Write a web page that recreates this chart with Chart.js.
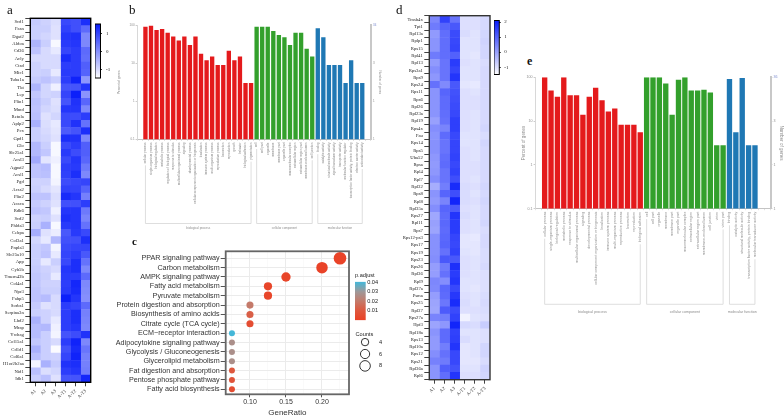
<!DOCTYPE html>
<html><head><meta charset="utf-8">
<script src="https://cdn.jsdelivr.net/npm/chart.js@4"></script>
<style>
html,body{margin:0;padding:0;background:#fff;width:784px;height:418px;overflow:hidden}
canvas{position:absolute;filter:blur(.3px)}
.t{position:absolute;white-space:nowrap;line-height:1}
</style></head><body>
<script>
/* ---------- panel a ---------- */
const samples = ["A1","A2","A3","A-T1","A-T2","A-T3"];
const genesA = ["Scd1","Fasn","Dgat2","Aldoa","Cd36","Acly","Ctsd","Mic1","Tuba1a","Tkt","Lep","Plin1","Mmd","Retnla","Aplp2","Pcx","Gpd1","Glo","Slc25a1","Acsl3","Agpat2","Acsl1","Pgd","Acss2","Plin2","Acaca","Rdh6","Scd2","Phlda3","Cebpa","Col3a1","Pnpla3","Slc25a10","App","Cyb5b","Tmem43b","Col4a1","Npr3","Fabp5","Sorbs1","Serpina3n","Lbd2","Mrap","Ywhag","Col15a1","Cd1d1","Col6a1","H1or2h2aa","Nid1","Idh1"];
const heatA = [
[-.8,-.9,-1.05,.95,.85,1.3],[-.85,-.85,-1.1,1.05,.85,.5],[-.85,-.95,-1.1,1.2,1.25,.1],[-.5,-.85,-1.4,1.15,1.2,.1],[-.7,-1,-1.2,1,1.1,.5],
[-1,-1,-1,1.35,1.1,.45],[-.9,-1,-1,1.1,1.1,.65],[-.9,-.85,-1.2,1.15,1.1,.6],[-.8,-.7,-.85,1.1,1.45,-.1],[-.5,-.95,-1.3,.8,.8,1.2],
[-.75,-.95,-.9,1,1.5,-.05],[-.65,-.85,-1.1,.8,1.25,.55],[-.7,-.95,-1.05,1.2,1.2,.1],[-.65,-1.1,-.95,.95,.9,1.1],[-.45,-1.05,-1.2,.95,1.25,.4],
[-.85,-1,-1.15,.7,.8,1.3],[-.85,-.95,-1.1,1.3,1.25,.1],[-.55,-.85,-1.4,.95,1.1,.65],[-.55,-.75,-1.4,1.15,.9,.65],[-.35,-1.15,-1.3,.95,1.2,.55],
[-.7,-.6,-1.4,1.1,1.15,.3],[-.7,-.65,-1.4,1.05,1.3,.1],[-.9,-.9,-1.35,.9,.95,1],[-.85,-1,-1.15,1.05,1,.6],[-.7,-.7,-1.05,1.35,1.2,.2],
[-.8,-.9,-1.1,.85,.85,1.1],[-.7,-.75,-1.3,1.2,1.2,.3],[-.9,-.85,-1.1,1.3,1.2,.15],[-.85,-.45,-1.4,1.15,1.2,.4],[-.4,-1.1,-1.25,.75,1.15,.95],
[-.95,-1.2,-.55,.85,.85,1.3],[-.85,-.75,-1.35,.95,1,1],[-.85,-.7,-1.2,1,1.1,.75],[-.85,-1.2,-.85,.95,1.3,.4],[-.8,-.9,-1,1.2,1.3,.1],
[-.75,-.85,-1.2,1.15,1.1,.5],[-.75,-.9,-.9,1.1,1.4,.1],[-.7,-.85,-.85,1.15,1.35,.05],[-.7,-.6,-1,1.5,1.2,0],[-.8,-1.1,-1,1.1,1,.5],
[-.85,-.9,-1,1.1,1.3,.2],[-.45,-.9,-1.2,1.1,1.3,.15],[-.6,-.55,-1.3,1.1,1.2,.1],[-.6,-.85,-1.35,.8,.9,1.25],[-.75,-.85,-1,1.1,1.45,.1],
[-.45,-.85,-1.45,.85,1.35,.35],[-.65,-.85,-.9,1,1.45,.2],[-1.35,-.45,-.8,1.25,1.3,.2],[-.65,-1.05,-.95,1.1,1.2,.25],[-.85,-.65,-1.1,.8,.8,1.4]];

/* ---------- panel d ---------- */
const genesD = ["Tmsb4x","Tpt1","Rpl13a","Rplp1","Rps15","Rpl41","Rpl13","Rps3a1","Rps9","Rps24","Rps11","Rps6","Rpl26","Rpl23a","Rpl19","Rps4x","Fau","Rps14","Rps5","Uba52","Rpsa","Rpl4","Rpl7","Rpl32","Rps8","Rpl8","Rpl35a","Rps27","Rpl11","Rps7","Rps12-ps3","Rps17","Rps19","Rps23","Rps26","Rpl36","Rpl9","Rpl37a","Psma","Rps25","Rpl37","Rps27a","Hpf3","Rpl18a","Rps13","Rpl10a","Rps12","Rps21","Rpl36a","Rpl6"];
const heatD = [
[.4,1.5,.7,-1,-1,-.9],[.6,.95,1.15,-1,-1,-.9],[.1,.8,1.35,-.95,-1.05,-.85],[.2,.8,1.4,-1.05,-1.05,-.8],[.2,.8,1.45,-1.05,-1.05,-.85],
[.6,.8,1,-1.05,-1.1,-.85],[.1,.7,1.6,-1,-1.05,-.95],[.3,.7,1.45,-1.05,-1.05,-.9],[.15,.7,1.7,-1.05,-1.05,-.9],[.75,.35,1.15,-1.1,-1.15,-.9],
[.2,.95,1.25,-1,-1.05,-.9],[.2,.85,1.3,-1,-1,-.9],[.2,.85,1.35,-1,-1,-.9],[.2,.8,1.4,-1,-1.05,-.9],[0,.75,1.55,-1,-1.05,-.9],
[.3,.45,1.55,-1,-1.05,-.85],[.2,.85,1.4,-1.05,-1.05,-.95],[.25,.7,1.45,-1.05,-1.05,-.85],[.25,.7,1.45,-1,-1.05,-.9],[.15,.8,1.5,-1,-1.05,-.9],
[.1,.85,1.4,-1,-1,-.9],[.15,.7,1.5,-1,-1,-.9],[.3,.7,1.3,-1,-1.05,-.9],[-.2,.55,1.85,-.95,-1,-.85],[.2,.95,1.3,-.95,-1.05,-.9],
[.1,.45,1.95,-.95,-1,-.85],[.3,.95,1.1,-1,-1.05,-.9],[-.1,.85,1.7,-.95,-1.05,-.9],[0,.9,1.6,-1,-1.05,-.85],[-.05,.85,1.6,-1,-1.05,-.95],
[.25,.9,1.45,-1.1,-1.15,-.9],[.25,.95,1.4,-1.1,-1.1,-.9],[.25,.75,1.5,-1.05,-1.1,-.95],[.3,1.15,1.15,-1,-1.05,-.95],[.05,.6,1.8,-1,-1.05,-.9],
[.05,.75,1.6,-1,-1.05,-1],[.4,.3,1.7,-1.05,-1.05,-1],[.35,.9,1.4,-1.05,-1.1,-1],[.05,.85,1.65,-1,-1.05,-.95],[-.05,.65,1.85,-.95,-1.05,-.9],
[-.1,1.1,1.35,-1,-1,-.95],[.45,.55,1.5,-1.3,-1.05,-1],[-.05,.15,1.95,-.9,-.95,-.7],[.2,.85,1.5,-1.05,-1.05,-1],[.1,.85,1.55,-.95,-1.05,-1],
[.1,.55,1.7,-1.1,-1.05,-.85],[.3,.75,1.4,-1.1,-1.05,-.85],[.5,.6,1.4,-1.1,-1.1,-.95],[.2,1.05,1.25,-1.05,-1.05,-.8],[.2,.8,1.7,-1,-1,-.85]];

/* ---------- panel b ---------- */
const bBioLabels = ["cellular process","single-organism process","biological regulation","metabolic process","regulation of biological process","response to stimulus","multicellular organismal process","signaling","developmental process","cellular component organization or biogenesis","localization","immune system process","multi-organism process","reproductive process","locomotion","reproduction","growth","behavior","biological adhesion","pigmentation"];
const bBioValues = [90,96,74,78,63,50,39,50,30,50,17.7,12,15,9,9,21,12,15,3,3];
const bCellLabels = ["cell","cell part","organelle","membrane","membrane part","organelle part","macromolecular complex","extracellular region","extracellular region part","membrane-enclosed lumen","cell junction"];
const bCellValues = [90,90,90,70,55,47.5,30,63,63,24,15];
const bMolLabels = ["binding","catalytic activity","structural molecule activity","signal transducer activity","transporter activity","molecular function regulator","transcription factor activity, protein binding","electron carrier activity","antioxidant activity"];
const bMolValues = [82,47.5,9,9,9,3,12,3,3];
const bRightTicks = ["34","3","1","1"];

/* ---------- panel e ---------- */
const eBioLabels = ["cellular process","single-organism process","biological regulation","metabolic process","response to stimulus","multicellular organismal process","signaling","developmental process","cellular component organization or biogenesis","localization","immune system process","multi-organism process","reproductive process","locomotion","reproduction","biological adhesion"];
const eBioValues = [100,50,36,100,39,39,14,36,58,30,16.5,19.5,8.3,8.3,8.3,5.6];
const eCellLabels = ["cell","cell part","organelle","membrane","membrane part","organelle part","macromolecular complex","extracellular region","extracellular region part","membrane-enclosed lumen","cell junction","virion","virion part"];
const eCellValues = [100,100,100,72,14,88,100,50,50,52,45,2.8,2.8];
const eMolLabels = ["binding","catalytic activity","structural molecule activity","transcription factor activity, protein binding","molecular transducer activity"];
const eMolValues = [92,5.6,96,2.8,2.8];
const eRightTicks = ["36","3","1","1"];

const percentTicks = [0.1,1,10,100];
const groupNames = ["biological process","cellular component","molecular function"];
const groupColors = ["#e41a1c","#33a02c","#1f78b4"];

/* ---------- panel c ---------- */
const pathways = ["PPAR signaling pathway","Carbon metabolism","AMPK signaling pathway","Fatty acid metabolism","Pyruvate metabolism","Protein digestion and absorption","Biosynthesis of amino acids","Citrate cycle (TCA cycle)","ECM\u2212receptor interaction","Adipocytokine signaling pathway","Glycolysis / Gluconeogenesis","Glycerolipid metabolism","Fat digestion and absorption","Pentose phosphate pathway","Fatty acid biosynthesis"];
const geneRatio = [.225,.2,.15,.125,.125,.1,.1,.1,.075,.075,.075,.075,.075,.075,.075];
const pAdjust = [.001,.001,.002,.002,.002,.02,.012,.005,.04,.027,.027,.027,.01,.008,.005];
const counts = [9,8,6,5,5,4,4,4,3,3,3,3,3,3,3];
const legendCounts = [4,6,8];
const pTicks = [.01,.02,.03,.04];

Chart.defaults.animation = false;
Chart.defaults.responsive = false;
Chart.defaults.devicePixelRatio = 1;
Chart.defaults.plugins.legend.display = false;
Chart.defaults.plugins.tooltip.enabled = false;
const SERIF = "'Liberation Serif'";
const SANS = "'Liberation Sans'";

function box(left, top, width, height){
  const c = document.createElement('canvas');
  c.width = width; c.height = height;
  c.style.left = left + 'px'; c.style.top = top + 'px';
  document.body.appendChild(c);
  return c.getContext('2d');
}
function text(str, left, top, css){
  const d = document.createElement('div');
  d.className = 't'; d.textContent = str;
  d.style.cssText += `left:${left}px;top:${top}px;${css}`;
  document.body.appendChild(d);
}
const fitW = w => s => { s.width = w; };
const fitH = h => s => { s.height = h; };
const frame = (color, lw) => ({
  id:'frame',
  afterDatasetsDraw(ch){
    const a = ch.chartArea, x = ch.ctx;
    x.save(); x.strokeStyle = color; x.lineWidth = lw;
    x.strokeRect(a.left, a.top, a.right-a.left, a.bottom-a.top);
    x.restore();
  }
});
function heatColor(v, lo, hi){
  const t = Math.max(0, Math.min(1, (v-lo)/(hi-lo)));
  const m = (a,b) => Math.round(a+(b-a)*t);
  return `rgb(${m(255,8)},${m(255,28)},${m(255,250)})`;
}

function heatmap(o){
  new Chart(box(o.left,o.top,o.width,o.height), {
    type:'bar',
    data:{
      labels:o.genes,
      datasets:samples.map((s,j)=>({
        label:s, data:o.genes.map(()=>1), stack:'row',
        backgroundColor:o.values.map(r=>heatColor(r[j],o.lo,o.hi)),
        barPercentage:1, categoryPercentage:1, borderWidth:0
      }))
    },
    options:{
      indexAxis:'y',
      layout:{padding:{top:o.padTop,right:o.padRight,left:0,bottom:0}},
      scales:{
        x:{type:'linear',min:0,max:samples.length,stacked:true,
           afterBuildTicks:s=>{s.ticks=samples.map((_,i)=>({value:i+.5}));},
           afterFit:fitH(o.axisH),
           grid:{drawOnChartArea:false,tickLength:4,color:'#111',lineWidth:.8},
           border:{display:false},
           ticks:{autoSkip:false,minRotation:45,maxRotation:45,padding:2,color:'#333',
                  font:{family:SERIF,size:4.8},callback:v=>samples[Math.floor(v)]}},
        y:{stacked:true,afterFit:fitW(o.axisW),
           grid:{drawOnChartArea:false,tickLength:5,color:'#111',lineWidth:.8},
           border:{display:false},
           ticks:{autoSkip:false,padding:1.5,color:'#222',font:{family:SERIF,size:4.7}}}
      }
    },
    plugins:[frame(o.frameColor,1.4)]
  });
}

function colorbar(o){
  new Chart(box(o.left,o.top,o.width,o.height), {
    type:'bar',
    data:{labels:['v'],datasets:[{data:[[o.lo,o.hi]],barPercentage:1,categoryPercentage:1,borderWidth:0,
      backgroundColor:c=>{
        const a=c.chart.chartArea; if(!a) return '#88f';
        const g=c.chart.ctx.createLinearGradient(0,a.bottom,0,a.top);
        for(let i=0;i<=20;i++) g.addColorStop(i/20,o.colorOf(o.lo+(o.hi-o.lo)*i/20));
        return g;
      }}]},
    options:{
      layout:{padding:{top:o.pad,bottom:o.pad,left:o.padLeft||0,right:0}},
      scales:{
        x:{display:false},
        y:{position:'right',min:o.lo,max:o.hi,afterFit:fitW(o.axisW),
           afterBuildTicks:s=>{s.ticks=o.ticks.map(value=>({value}));},
           grid:{drawOnChartArea:false,tickLength:o.tick,color:o.tickColor},
           border:{display:false},
           ticks:{padding:o.tickPad,color:o.labelColor,font:{family:o.family,size:o.size},callback:v=>o.format(v)}}
      }
    },
    plugins:o.frame?[frame(o.frame,1)]:[]
  });
}

/* GO bar panel with brackets under the labels */
function goPanel(o){
  const labels=[''].concat(o.bio.labels,o.cell.labels,o.mol.labels,o.tail);
  const values=[null].concat(o.bio.values,o.cell.values,o.mol.values,o.tail.map(()=>null));
  const colors=[null]
    .concat(o.bio.labels.map(()=>groupColors[0]),o.cell.labels.map(()=>groupColors[1]),o.mol.labels.map(()=>groupColors[2]),o.tail.map(()=>null));
  const parts=[o.bio.labels.length,o.cell.labels.length,o.mol.labels.length];
  const brackets={
    id:'brackets',
    afterDraw(ch){
      const x=ch.ctx, sc=ch.scales.x; let i=1;
      x.save();
      x.font=`${o.size}px ${SANS}`;
      parts.forEach((n,k)=>{
        const first=i, last=i+n-1; i+=n;
        const xa=sc.getPixelForValue(first), xb=sc.getPixelForValue(last);
        const yb=sc.top+o.bracketY;
        const up=idx=>sc.top+o.labelGap+x.measureText(labels[idx]).width+2;
        x.strokeStyle='#d6d6d6'; x.lineWidth=.8;
        x.beginPath();
        x.moveTo(xa,up(first)); x.lineTo(xa,yb); x.lineTo(xb,yb); x.lineTo(xb,up(last));
        x.stroke();
        x.fillStyle=o.textColor; x.textAlign='center'; x.textBaseline='middle';
        x.fillText(groupNames[k],(xa+xb)/2,yb+o.groupGap);
      });
      x.restore();
    }
  };
  const tickColor=ctx=>ctx.index===percentTicks.length-1?'#7f8fd0':o.textColor;
  new Chart(box(o.left,o.top,o.width,o.height), {
    type:'bar',
    data:{labels,datasets:[{data:values,backgroundColor:colors,barPercentage:o.barPct,categoryPercentage:1,borderWidth:0}]},
    options:{
      layout:{padding:{top:o.padTop,left:0,right:0,bottom:0}},
      scales:{
        x:{afterFit:fitH(o.axisH),
           grid:{drawOnChartArea:false,tickLength:1.5,color:'#ccc',lineWidth:.6},
           border:{color:'#c4c4c4',width:1},
           ticks:{autoSkip:false,minRotation:90,maxRotation:90,padding:o.tickPad,color:o.textColor,font:{family:SANS,size:o.size}}},
        y:{type:'logarithmic',min:.1,max:100,afterFit:fitW(o.axisW),
           afterBuildTicks:s=>{s.ticks=percentTicks.map(value=>({value}));},
           title:{display:true,text:'Percent of genes',color:o.textColor,font:{family:SANS,size:o.titleSize},padding:0},
           grid:{drawOnChartArea:false,tickLength:1.5,color:'#ccc'},
           border:{color:'#d8d8d8',width:1},
           ticks:{padding:1,color:o.textColor,font:{family:SANS,size:o.size},callback:v=>String(v)}},
        y1:{type:'logarithmic',position:'right',min:.1,max:100,afterFit:fitW(o.axisR),
           afterBuildTicks:s=>{s.ticks=percentTicks.map(value=>({value}));},
           title:{display:true,text:'Number of genes',color:o.textColor,font:{family:SANS,size:o.titleSize},padding:0},
           grid:{drawOnChartArea:false,tickLength:1.5,color:'#ccc'},
           border:{color:'#c8c8c8',width:2},
           ticks:{padding:1,color:tickColor,font:{family:SANS,size:o.size},
                  callback:v=>o.right[percentTicks.length-1-percentTicks.indexOf(v)]}}
      }
    },
    plugins:[brackets]
  });
}

/* panel a */
heatmap({left:0,top:10,width:95,height:408,axisW:30.3,axisH:35.7,padTop:8.3,padRight:4.3,genes:genesA,values:heatA,lo:-1.5,hi:1.55,frameColor:'#000'});
colorbar({left:95,top:17,width:16,height:68,axisW:10.5,pad:3,lo:-1.47,hi:1.54,ticks:[-1,0,1],tick:1.5,tickPad:4,tickColor:'#333',labelColor:'#222',family:SERIF,size:5,frame:'#000',format:v=>String(v),colorOf:v=>heatColor(v,-1.47,1.54)});
/* panel d */
heatmap({left:395,top:8,width:97,height:410,axisW:34.3,axisH:38.3,padTop:7.7,padRight:2,genes:genesD,values:heatD,lo:-1.5,hi:2.1,frameColor:'#333'});
colorbar({left:494,top:14,width:17,height:67,axisW:11.7,pad:2.7,lo:-1.48,hi:2.1,ticks:[-1,0,1,2],tick:1.5,tickPad:3.5,tickColor:'#333',labelColor:'#222',family:SERIF,size:5,frame:'#000',format:v=>String(v),colorOf:v=>heatColor(v,-1.48,2.1)});

/* panel b */
goPanel({left:117,top:20,width:265,height:215,axisW:20.1,axisR:11.4,axisH:95.5,padTop:5,barPct:.78,tail:[''],size:3,titleSize:3.1,textColor:'#8c8c8c',tickPad:1.5,labelGap:3,bracketY:84,groupGap:5,
  bio:{labels:bBioLabels,values:bBioValues},cell:{labels:bCellLabels,values:bCellValues},mol:{labels:bMolLabels,values:bMolValues},right:bRightTicks});
/* panel e */
goPanel({left:521,top:72,width:263,height:246,axisW:14.1,axisR:13.1,axisH:109.3,padTop:5.3,barPct:.84,tail:['',''],size:3.6,titleSize:4.6,textColor:'#8c8c8c',tickPad:1.5,labelGap:3,bracketY:95.6,groupGap:8,
  bio:{labels:eBioLabels,values:eBioValues},cell:{labels:eCellLabels,values:eCellValues},mol:{labels:eMolLabels,values:eMolValues},right:eRightTicks});

/* panel c */
function pColor(p){
  const stops=[[0,[234,65,37]],[.01,[222,88,62]],[.02,[196,122,106]],[.03,[160,152,152]],[.04,[69,183,216]]];
  for(let i=1;i<stops.length;i++){
    if(p<=stops[i][0]){
      const [a,ca]=stops[i-1],[b,cb]=stops[i],t=(p-a)/(b-a);
      return `rgb(${ca.map((c,k)=>Math.round(c+(cb[k]-c)*t)).join(',')})`;
    }
  }
  return 'rgb(69,183,216)';
}
const countRadius = n => 3 + (n-3)*.55;
const xGrid=[.075,.1,.125,.15,.175,.2,.225];
new Chart(box(110,245,260,173),{
  type:'bubble',
  data:{datasets:[{
    data:pathways.map((_,i)=>({x:geneRatio[i],y:i,r:countRadius(counts[i])})),
    backgroundColor:pAdjust.map(pColor),borderWidth:0
  }]},
  options:{
    layout:{padding:{top:5.7,right:21,left:0,bottom:0}},
    clip:false,
    scales:{
      x:{type:'linear',min:.0663,max:.2375,afterFit:fitH(23.7),
         afterBuildTicks:s=>{s.ticks=xGrid.map(value=>({value}));},
         title:{display:true,text:'GeneRatio',color:'#333',font:{family:SANS,size:8},padding:0},
         grid:{color:c=>(c.index%2?'#ebebeb':'#f4f4f4'),lineWidth:c=>(c.index%2?1:.5),tickLength:3,tickColor:c=>(c.index%2?'#555':'rgba(0,0,0,0)')},
         border:{display:false},
         ticks:{autoSkip:false,maxRotation:0,padding:1,color:'#333',font:{family:SANS,size:7},
                callback:(v,i)=>i%2?v.toFixed(2):''}},
      y:{type:'linear',reverse:true,min:-.745,max:14.53,afterFit:fitW(115.7),
         afterBuildTicks:s=>{s.ticks=pathways.map((_,value)=>({value}));},
         grid:{color:'#ebebeb',tickLength:5,tickColor:'#555'},
         border:{display:false},
         ticks:{autoSkip:false,padding:1,color:'#333',font:{family:SANS,size:7.2},callback:v=>pathways[v]}}
    }
  },
  plugins:[frame('#666',1.8)]
});
colorbar({left:355,top:277,width:29,height:48,axisW:18.3,pad:3,lo:0,hi:.0405,ticks:pTicks,tick:0,tickPad:1.5,tickColor:'#fff',labelColor:'#222',family:SANS,size:5.6,format:v=>v.toFixed(2),colorOf:pColor});
new Chart(box(355,336,30,36),{
  type:'bubble',
  data:{datasets:[{data:legendCounts.map(n=>({x:0,y:n,r:n===4?3.7:n===6?4.6:5.3})),backgroundColor:'#fff',borderColor:'#000',borderWidth:.8}]},
  options:{
    clip:false,
    layout:{padding:{top:6,bottom:6}},
    scales:{
      x:{display:false,min:-1,max:1},
      y:{position:'right',reverse:true,min:4,max:8,afterFit:fitW(16),
         afterBuildTicks:s=>{s.ticks=legendCounts.map(value=>({value}));},
         grid:{display:false},border:{display:false},
         ticks:{padding:2,color:'#222',font:{family:SANS,size:5.6}}}
    }
  }
});
text('p.adjust',355,272,`font:5.6px ${SANS};color:#222`);
text('Counts',355.5,331,`font:5.6px ${SANS};color:#222`);

/* panel letters */
const L=`font:13px ${SERIF};color:#111`;
text('a',7,2,L); text('b',129,2,L); text('d',396,2,L);
text('c',132,235,`font:bold 11px ${SERIF};color:#111`);
text('e',527,54,`font:bold 12px ${SERIF};color:#111`);
</script>
</body></html>
